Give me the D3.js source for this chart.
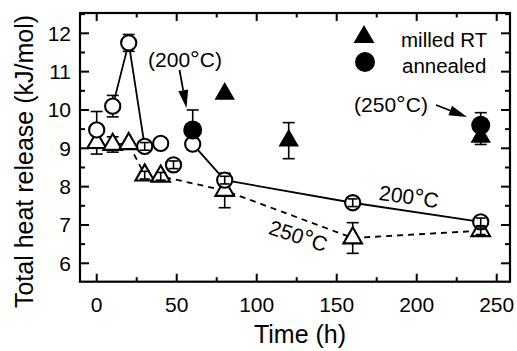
<!DOCTYPE html>
<html>
<head>
<meta charset="utf-8">
<script src="https://cdn.jsdelivr.net/npm/d3@7/dist/d3.min.js"></script>
<style>
  html, body { margin: 0; padding: 0; background: #fff; }
  svg text { font-family: "Liberation Sans", Arial, Helvetica, sans-serif; fill: #000; }
</style>
</head>
<body>
<svg id="chart" width="517" height="351"></svg>
<script>
// ---- data ----
// open circles, annealed at 200 C (solid line)
const t200 = [0, 10, 20, 30, 40, 48, 60, 80, 160, 240];
const v200 = [9.48, 10.1, 11.75, 9.05, 9.13, 8.57, 9.11, 8.17, 7.58, 7.08];
const e200 = [0.48, 0.28, 0.22, 0.1, 0, 0.1, 0, 0.1, 0.1, 0.1];
const seg200 = [0, 1, 1, 1, 0, 0, 2, 2, 2, 2]; // 0 = not joined

// open triangles, annealed at 250 C (dashed line)
const t250 = [0, 10, 20, 30, 40, 80, 160, 240];
const v250 = [9.15, 9.1, 9.12, 8.3, 8.27, 7.9, 6.66, 6.85];
const e250 = [0.3, 0.2, 0, 0.1, 0.1, 0.45, 0.4, 0.1];

// filled triangles: milled RT
const tMilled = [80, 120, 240];
const vMilled = [10.42, 9.2, 9.3];
const eMilled = [0, 0.47, 0.2];

// filled circles: annealed
const tAnn = [60, 240];
const vAnn = [9.48, 9.6];
const eAnn = [0.52, 0.33];

const xTicks = [0, 50, 100, 150, 200, 250];
const xMinor = [25, 75, 125, 175, 225];
const yTicks = [6, 7, 8, 9, 10, 11, 12];
const yMinor = [5.5, 6.5, 7.5, 8.5, 9.5, 10.5, 11.5, 12.5];

const legendLabels = ["milled RT", "annealed"];

// ---- chart ----
const svg = d3.select("#chart");
const L = 80, R = 510, T = 13, B = 281.7;
const x = d3.scaleLinear().domain([-10.44, 258.3]).range([L, R]);
const y = d3.scaleLinear().domain([5.52, 12.53]).range([B, T]);

// frame ticks
const g = svg.append("g");
function tick(x1, y1, x2, y2, w) {
  g.append("line").attr("x1", x1).attr("y1", y1).attr("x2", x2).attr("y2", y2)
    .attr("stroke", "#000").attr("stroke-width", w);
}
xTicks.forEach(v => { tick(x(v), B, x(v), B - 8, 2); tick(x(v), T, x(v), T + 8, 2); });
xMinor.forEach(v => { tick(x(v), B, x(v), B - 4.5, 2); tick(x(v), T, x(v), T + 4.5, 2); });
yTicks.forEach(v => { tick(L, y(v), L + 9, y(v), 2); tick(R, y(v), R - 9, y(v), 2); });
yMinor.filter(v => v > 5.52 && v < 12.53).forEach(v => { tick(L, y(v), L + 5, y(v), 2); tick(R, y(v), R - 5, y(v), 2); });

svg.append("rect").attr("x", L).attr("y", T).attr("width", R - L).attr("height", B - T)
  .attr("fill", "none").attr("stroke", "#000").attr("stroke-width", 2.2);

// tick labels
xTicks.forEach(v => {
  svg.append("text").attr("x", x(v)).attr("y", 312).attr("text-anchor", "middle")
    .attr("font-size", 21).text(v);
});
yTicks.forEach(v => {
  svg.append("text").attr("x", 71).attr("y", y(v) + 7.5).attr("text-anchor", "end")
    .attr("font-size", 21).text(v);
});

// axis titles
svg.append("text").attr("x", 300).attr("y", 343).attr("text-anchor", "middle")
  .attr("font-size", 25).text("Time (h)");
svg.append("text").attr("transform", "translate(33,161.5) rotate(-90)")
  .attr("text-anchor", "middle").attr("font-size", 25).text("Total heat release (kJ/mol)");

// lines
const pts200 = t200.map((t, i) => ({ t, v: v200[i], e: e200[i], s: seg200[i] }));
const pts250 = t250.map((t, i) => ({ t, v: v250[i], e: e250[i] }));
const ptsMilled = tMilled.map((t, i) => ({ t, v: vMilled[i], e: eMilled[i] }));
const ptsAnn = tAnn.map((t, i) => ({ t, v: vAnn[i], e: eAnn[i] }));

const line = d3.line().x(d => x(d.t)).y(d => y(d.v));
svg.append("path").datum(pts250).attr("d", line).attr("fill", "none")
  .attr("stroke", "#000").attr("stroke-width", 1.8).attr("stroke-dasharray", "6,5");
[1, 2].forEach(s => {
  svg.append("path").datum(pts200.filter(d => d.s === s)).attr("d", line)
    .attr("fill", "none").attr("stroke", "#000").attr("stroke-width", 1.8);
});

// error bars
function errBars(data, front) {
  const sel = data.filter(d => d.e > 0 && ((y(d.v - d.e) - y(d.v + d.e)) / 2 < 7) === front);
  const eg = svg.append("g").attr("stroke", "#000").attr("stroke-width", 1.6);
  sel.forEach(d => {
    const cx = x(d.t), y1 = y(d.v + d.e), y2 = y(d.v - d.e);
    const hw = front ? 5 : 6;
    eg.append("line").attr("x1", cx).attr("x2", cx).attr("y1", y1).attr("y2", y2);
    eg.append("line").attr("x1", cx - hw).attr("x2", cx + hw).attr("y1", y1).attr("y2", y1);
    eg.append("line").attr("x1", cx - hw).attr("x2", cx + hw).attr("y1", y2).attr("y2", y2);
  });
}
[pts250, pts200, ptsMilled, ptsAnn].forEach(d => errBars(d, false));

const tri = d3.symbol().type(d3.symbolTriangle);
// open triangles
svg.append("g").selectAll("path").data(pts250).join("path")
  .attr("d", tri.size(150)())
  .attr("transform", d => `translate(${x(d.t)},${y(d.v)})`)
  .attr("fill", "#fff").attr("stroke", "#000").attr("stroke-width", 2.1);
// open circles
svg.append("g").selectAll("circle").data(pts200).join("circle")
  .attr("cx", d => x(d.t)).attr("cy", d => y(d.v)).attr("r", 7.6)
  .attr("fill", "#fff").attr("stroke", "#000").attr("stroke-width", 2.1);
// filled triangles
svg.append("g").selectAll("path").data(ptsMilled).join("path")
  .attr("d", d3.symbol().type(d3.symbolTriangle).size(180)())
  .attr("transform", d => `translate(${x(d.t)},${y(d.v)})`)
  .attr("fill", "#000");
// filled circles
svg.append("g").selectAll("circle").data(ptsAnn).join("circle")
  .attr("cx", d => x(d.t)).attr("cy", d => y(d.v)).attr("r", 9.5)
  .attr("fill", "#000");

[pts250, pts200].forEach(d => errBars(d, true));

// labels on lines
function degLabel(txt, xx, yy, rot, size) {
  const t = svg.append("text").attr("transform", `translate(${xx},${yy}) rotate(${rot})`)
    .attr("text-anchor", "middle").attr("font-size", size);
  t.append("tspan").text(txt[0]);
  t.append("tspan").attr("font-size", size * 1.15).text("\u00B0");
  t.append("tspan").text(txt[1]);
  return t;
}
degLabel(["200", "C"], 408, 204, 8, 21);
degLabel(["250", "C"], 296, 243, 18, 21);
degLabel(["(200", "C)"], 185, 67, 0, 21);
degLabel(["(250", "C)"], 391, 112, 0, 21);

// arrows
function arrow(x1, y1, x2, y2) {
  const a = Math.atan2(y2 - y1, x2 - x1), len = 18, hw = 5;
  const bx = x2 - len * Math.cos(a), by = y2 - len * Math.sin(a);
  svg.append("line").attr("x1", x1).attr("y1", y1).attr("x2", bx).attr("y2", by)
    .attr("stroke", "#000").attr("stroke-width", 1.8);
  const px = -Math.sin(a) * hw, py = Math.cos(a) * hw;
  svg.append("path").attr("d", `M${x2},${y2}L${bx + px},${by + py}L${bx - px},${by - py}Z`)
    .attr("fill", "#000");
}
arrow(179.5, 70, 186.5, 108);
arrow(436, 105, 467, 117);

// legend
svg.append("path").attr("d", d3.symbol().type(d3.symbolTriangle).size(190)())
  .attr("transform", "translate(364,37)").attr("fill", "#000");
svg.append("circle").attr("cx", 365).attr("cy", 62).attr("r", 10).attr("fill", "#000");
svg.append("text").attr("x", 401).attr("y", 47).attr("font-size", 20.5).text(legendLabels[0]);
svg.append("text").attr("x", 402).attr("y", 73).attr("font-size", 20.5).text(legendLabels[1]);
</script>
</body>
</html>
